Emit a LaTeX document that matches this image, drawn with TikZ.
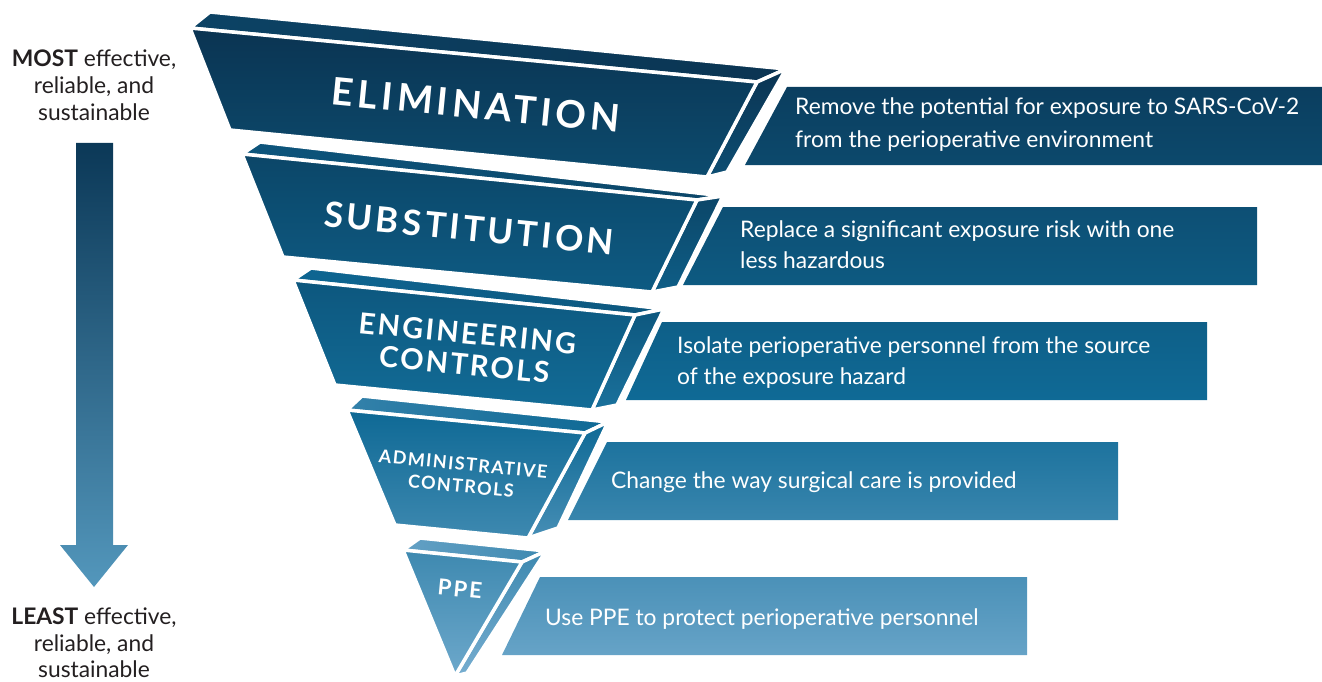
\documentclass[tikz,border=0pt]{standalone}
\usepackage{fontspec}
\setmainfont{Lato}
\newfontfamily\tierfont{Lato}
\usetikzlibrary{calc}

% colour at pixel height y (three stops)
\newcommand\mkcol[2]{%
  \pgfmathtruncatemacro\mkR{(#2)<400 ? 11+(#2)*0.01 : 15+((#2)-400)*0.342857}%
  \pgfmathtruncatemacro\mkG{(#2)<400 ? 51+(#2)*0.1375 : 106+((#2)-400)*0.225}%
  \pgfmathtruncatemacro\mkB{(#2)<400 ? 80+(#2)*0.175 : 150+((#2)-400)*0.192857}%
  \edef\mkTmp{\noexpand\definecolor{#1}{RGB}{\mkR,\mkG,\mkB}}\mkTmp}

% one tier: #1 A (front TL) #2 B (front TR) #3 C (front BR) #4 D (front BL)
% #5 A' (back TL) #6 E (back TR) #7 F (side BR) #8 ytop #9 ybot
\newcommand\tier[9]{%
  \mkcol{ca}{#8}\mkcol{cb}{#9}%
  \pgfmathsetmacro\mkS{#8+110}\mkcol{cs}{\mkS}%
  \pgfmathsetmacro\mkT{#9+25}\mkcol{ct}{\mkT}%
  \shadedraw[face, left color=cs, right color=ca] #1 -- #2 -- #6 -- #5 -- cycle;
  \shadedraw[face, top color=ca, bottom color=ct] #2 -- #6 -- #7 -- #3 -- cycle;
  \shadedraw[face, top color=ca, bottom color=cb] #1 -- #2 -- #3 -- #4 -- cycle;
}

\newcommand\descbox[5]{% #1 x left top, #2 x left bottom, #3 x right, #4 y top, #5 y bottom
  \mkcol{ba}{#4}\mkcol{bb}{#5}%
  \shade[top color=ba, bottom color=bb] (#1,#4) -- (#3,#4) -- (#3,#5) -- (#2,#5) -- cycle;
}

\begin{document}
\begin{tikzpicture}[x=1pt,y=-1pt,
  face/.style={draw=white, line width=3.5pt, line join=round},
  tierlabel/.style={text=white, inner sep=0pt, align=center, rotate=-5.6},
  desc/.style={anchor=base west, text=white, inner sep=0pt,
    font=\fontsize{22.8}{26}\selectfont},
  sidelabel/.style={anchor=base, text=textdark, inner sep=0pt,
    font=\fontsize{22.8}{26}\selectfont}]
\definecolor{textdark}{RGB}{35,31,32}
\useasboundingbox (0,0) rectangle (1322,682);

% description boxes (behind)
\descbox{787}{745}{1322}{87}{165}
\descbox{723}{683}{1257}{207}{285}
\descbox{662}{626}{1207}{322}{400}
\descbox{607}{568}{1118}{442}{520}
\descbox{540}{502}{1027}{577}{655}

% tiers
\tier{(190,28)}{(757,82)}{(707,177)}{(230,130)}{(210,12)}{(786,69)}{(727,172)}{12}{177}
\tier{(242,154)}{(697,200)}{(652,292)}{(283,257)}{(260,142)}{(723,196)}{(678,287)}{142}{292}
\tier{(293,280)}{(635,315)}{(592,410)}{(335,385)}{(311,268)}{(664,309)}{(617,405)}{268}{410}
\tier{(347,410)}{(585,433)}{(528,538)}{(395,525)}{(362,396)}{(608,422)}{(558,528)}{396}{538}
\tier{(403,550)}{(522,562)}{(455,676)}{(455,676)}{(420,538)}{(546,551)}{(467,673)}{538}{676}

% tier labels
\node[tierlabel, font=\tierfont\bfseries\addfontfeatures{LetterSpace=11}\fontsize{38}{40}\selectfont] (elim) at (476,105) {ELIMINATION};
\node[tierlabel, font=\tierfont\bfseries\addfontfeatures{LetterSpace=10}\fontsize{35}{38}\selectfont] (subst) at (469,228) {SUBSTITUTION};
\node[tierlabel, font=\tierfont\bfseries\addfontfeatures{LetterSpace=8}\fontsize{29}{31.5}\selectfont] (eng) at (466,349) {ENGINEERING\\CONTROLS};
\node[tierlabel, font=\tierfont\bfseries\addfontfeatures{LetterSpace=8}\fontsize{18}{22}\selectfont] (admin) at (462,475) {ADMINISTRATIVE\\CONTROLS};
\node[tierlabel, font=\tierfont\bfseries\addfontfeatures{LetterSpace=10}\fontsize{22}{24}\selectfont] (ppe) at (460,589) {PPE};

% descriptions
\node[desc] (d1a) at (795,115) {Remove the potential for exposure to SARS-CoV-2};
\node[desc] (d1b) at (795,147) {from the perioperative environment};
\node[desc] (d2a) at (740,237) {Replace a significant exposure risk with one};
\node[desc] (d2b) at (740,268) {less hazardous};
\node[desc] (d3a) at (677,353) {Isolate perioperative personnel from the source};
\node[desc] (d3b) at (677,384) {of the exposure hazard};
\node[desc] (d4) at (611,488) {Change the way surgical care is provided};
\node[desc] (d5) at (545,625) {Use PPE to protect perioperative personnel};

% left arrow
\mkcol{arra}{40}\mkcol{arrb}{600}
\shade[top color=arra, bottom color=arrb] (76,143) -- (113,143) -- (113,545) -- (128,545)
  -- (94,587) -- (60,545) -- (76,545) -- cycle;

% left labels
\node[sidelabel] (most1) at (94,67) {\textbf{MOST} effective,};
\node[sidelabel] (most2) at (94,94) {reliable, and};
\node[sidelabel] (most3) at (94,121) {sustainable};
\node[sidelabel] (least1) at (94,624) {\textbf{LEAST} effective,};
\node[sidelabel] (least2) at (94,651) {reliable, and};
\node[sidelabel] (least3) at (94,677) {sustainable};
\end{tikzpicture}
\end{document}
